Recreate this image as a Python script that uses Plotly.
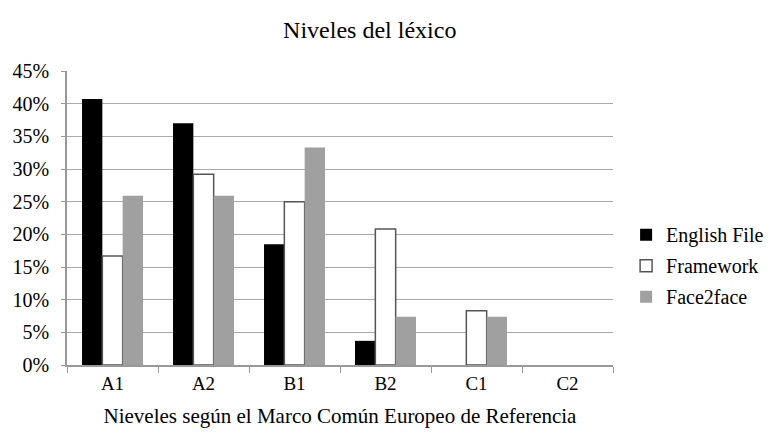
import plotly.graph_objects as go

categories = ["A1", "A2", "B1", "B2", "C1", "C2"]
english_file = [40.7, 37.0, 18.5, 3.7, 0, 0]
framework = [16.7, 29.2, 25.0, 20.8, 8.3, 0]
face2face = [25.9, 25.9, 33.3, 7.4, 7.4, 0]
y_ticks = [0, 5, 10, 15, 20, 25, 30, 35, 40, 45]
y_tick_labels = [f"{v}%" for v in y_ticks]

FONT = "Times New Roman, Liberation Serif, serif"

fig = go.Figure()
fig.add_trace(go.Bar(name="English File", x=categories, y=english_file,
                     marker=dict(color="#000000", line=dict(width=0)),
                     legendgroup="a"))
fig.add_trace(go.Bar(name="Framework", x=categories, y=framework,
                     marker=dict(color="#ffffff",
                                 line=dict(color="#555555",
                                           width=[1.5 if v > 0 else 0 for v in framework])),
                     legendgroup="b"))
fig.add_trace(go.Bar(name="Face2face", x=categories, y=face2face,
                     marker=dict(color="#a0a0a0", line=dict(width=0)),
                     legendgroup="c"))

fig.update_layout(
    width=773, height=439,
    margin=dict(l=59, r=168, t=63, b=82, autoexpand=False),
    paper_bgcolor="white", plot_bgcolor="white",
    font=dict(family=FONT, color="#000000", size=20),
    title=dict(text="Niveles del léxico", x=0.468, xanchor="center", y=0.95, yanchor="middle",
               font=dict(size=24, family=FONT)),
    barmode="group", bargap=0.33, bargroupgap=0,
    showlegend=True,
    legend=dict(x=1.024, y=0.338, xanchor="left", yanchor="middle",
                font=dict(size=20, family=FONT, color="#000000"), traceorder="grouped",
                tracegroupgap=2, itemwidth=30, bgcolor="rgba(0,0,0,0)"),
    xaxis=dict(
        title=dict(text="Nieveles según el Marco Común Europeo de Referencia",
                   font=dict(size=21, family=FONT), standoff=16),
        showline=True, linecolor="#999999", linewidth=1.5,
        ticks="outside", tickson="boundaries", ticklen=6, tickcolor="#999999",
        tickfont=dict(size=19, family=FONT), showgrid=False,
    ),
    yaxis=dict(
        range=[0, 45], tickvals=y_ticks, ticktext=y_tick_labels,
        showline=True, linecolor="#999999", linewidth=1.5,
        ticks="outside", ticklen=4, tickcolor="#999999",
        showgrid=True, gridcolor="#aaaaaa", gridwidth=1.2,
        zeroline=False, tickfont=dict(size=20, family=FONT),
        ticklabelstandoff=8,
    ),
)

fig.write_html("out.html")
